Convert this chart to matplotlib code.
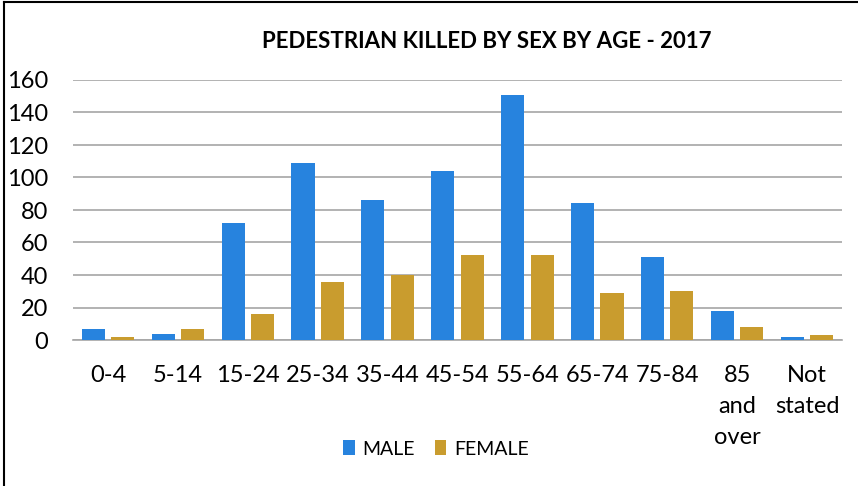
import matplotlib.pyplot as plt
from matplotlib.lines import Line2D
import numpy as np

# Datos
age_groups = ['0-4', '5-14', '15-24', '25-34', '35-44', '45-54',
              '55-64', '65-74', '75-84', '85\nand\nover', 'Not\nstated']
male = [7, 4, 72, 109, 86, 104, 151, 84, 51, 18, 2]
female = [2, 7, 16, 36, 40, 52, 52, 29, 30, 8, 3]
y_ticks = [0, 20, 40, 60, 80, 100, 120, 140, 160]

plt.rcParams['font.family'] = ['Lato', 'DejaVu Sans']

W, H = 858, 486
fig = plt.figure(figsize=(W / 100, H / 100), dpi=100)

# Área del gráfico (en píxeles)
left, right, top, bottom = 73, 842, 80, 340
ax = fig.add_axes([left / W, 1 - bottom / H, (right - left) / W, (bottom - top) / H])

x = np.arange(len(age_groups))
width = 0.33
ax.bar(x - 0.21, male, width, color='#2783DE', label='MALE', zorder=3)
ax.bar(x + 0.21, female, width, color='#C99C2E', label='FEMALE', zorder=3)

ax.set_xlim(-0.5, len(age_groups) - 0.5)
ax.set_ylim(0, 160)
ax.set_yticks(y_ticks)
ax.set_yticklabels([str(v) for v in y_ticks], fontsize=17)
ax.set_xticks(x)
ax.set_xticklabels(age_groups, fontsize=17, linespacing=1.6)
ax.tick_params(axis='both', length=0)
ax.tick_params(axis='x', pad=18)
ax.tick_params(axis='y', pad=18)

ax.yaxis.grid(True, color='#A6A6A6', linewidth=1.2, zorder=0)
for s in ['top', 'right', 'left']:
    ax.spines[s].set_visible(False)
ax.spines['bottom'].set_color('#A6A6A6')
ax.spines['bottom'].set_linewidth(1.2)

fig.text(487 / W, 1 - 42 / H, 'PEDESTRIAN KILLED BY SEX BY AGE - 2017',
         ha='center', va='center', fontsize=16, fontweight='bold')

ax.legend(loc='center', bbox_to_anchor=(436 / W, 1 - 449 / H),
          bbox_transform=fig.transFigure, ncol=2, frameon=False,
          fontsize=14, handlelength=0.6, handleheight=0.8,
          handletextpad=0.4, columnspacing=1.0)

# Marco exterior (solo arriba e izquierda)
fig.lines.append(Line2D([4 / W, 4 / W], [0, 1 - 2 / H], transform=fig.transFigure,
                        color='black', linewidth=1.5))
fig.lines.append(Line2D([4 / W, 1], [1 - 2 / H, 1 - 2 / H], transform=fig.transFigure,
                        color='black', linewidth=1.5))

fig.savefig('out.png', dpi=100, facecolor='white')
